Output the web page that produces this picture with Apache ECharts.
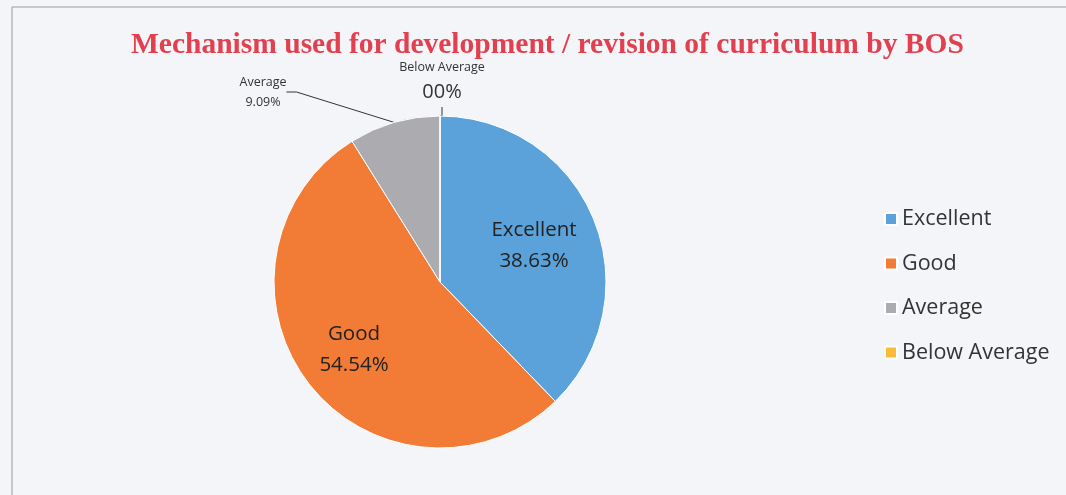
<!DOCTYPE html>
<html>
<head>
<meta charset="utf-8">
<script src="https://cdn.jsdelivr.net/npm/echarts@6/dist/echarts.min.js"></script>
<style>
    html, body { margin: 0; padding: 0; background: #f3f5f8; }
    #chart { width: 1066px; height: 495px; }
</style>
</head>
<body>
<div id="chart"></div>
<script>
    // data
    var categories = ['Excellent', 'Good', 'Average', 'Below Average'];
    var shares = [38.63, 54.54, 9.09, 0];
    var shareLabels = ['38.63%', '54.54%', '9.09%', '00%'];
    var colors = ['#5aa2d9', '#f27b36', '#acabb0', '#f9bb3a'];

    var chart = echarts.init(document.getElementById('chart'));

    var pieData = [];
    for (var i = 0; i < categories.length; i++) {
        pieData.push({
            name: categories[i],
            value: shares[i],
            itemStyle: { color: colors[i] }
        });
    }
    // the two small slices carry their labels outside
    pieData[2].label = {
        position: 'outside',
        formatter: '{s|Average}\n{s|' + shareLabels[2] + '}'
    };
    pieData[3].label = {
        position: 'outside',
        formatter: '{s|Below Average}\n{b|' + shareLabels[3] + '}'
    };

    var option = {
        backgroundColor: '#f3f5f8',
        title: {
            text: 'Mechanism used for development / revision of curriculum by BOS',
            left: 126,
            top: 25,
            textStyle: {
                fontFamily: 'Liberation Serif',
                fontWeight: 'bold',
                fontSize: 29.5,
                color: '#e2404f'
            }
        },
        legend: {
            orient: 'vertical',
            left: 879,
            top: 203,
            itemWidth: 12,
            itemHeight: 12,
            itemGap: 22.5,
            icon: 'rect',
            data: categories,
            textStyle: {
                fontFamily: 'Open Sans',
                fontSize: 21.5,
                color: '#333'
            }
        },
        graphic: [{
            type: 'rect',
            shape: { x: 12, y: 7, width: 1080, height: 520 },
            style: { fill: 'none', stroke: '#9a9a9a', lineWidth: 1 },
            silent: true
        }],
        series: [{
            type: 'pie',
            center: [440, 282],
            radius: 166,
            startAngle: 90,
            clockwise: true,
            avoidLabelOverlap: false,
            itemStyle: { borderColor: '#ffffff', borderWidth: 1 },
            label: {
                position: 'inside',
                fontFamily: 'Open Sans',
                fontSize: 20.5,
                lineHeight: 31,
                color: '#222',
                formatter: function (p) {
                    return p.name + '\n' + shareLabels[p.dataIndex];
                },
                rich: {
                    s: { fontFamily: 'Open Sans', fontSize: 12.5, lineHeight: 20, color: '#333' },
                    b: { fontFamily: 'Open Sans', fontSize: 20, lineHeight: 30, color: '#333' }
                }
            },
            labelLine: {
                show: true,
                length: 10,
                length2: 10,
                lineStyle: { color: '#333', width: 1 }
            },
            labelLayout: function (params) {
                if (params.dataIndex === 0) {
                    return { x: 534, y: 246, align: 'center', verticalAlign: 'middle' };
                }
                if (params.dataIndex === 1) {
                    return { x: 354, y: 350, align: 'center', verticalAlign: 'middle' };
                }
                if (params.dataIndex === 2) {
                    return { x: 263, y: 92, align: 'center', verticalAlign: 'middle' };
                }
                if (params.dataIndex === 3) {
                    return { x: 442, y: 82, align: 'center', verticalAlign: 'middle' };
                }
                return {};
            },
            data: pieData
        }]
    };

    chart.setOption(option);
</script>
</body>
</html>
